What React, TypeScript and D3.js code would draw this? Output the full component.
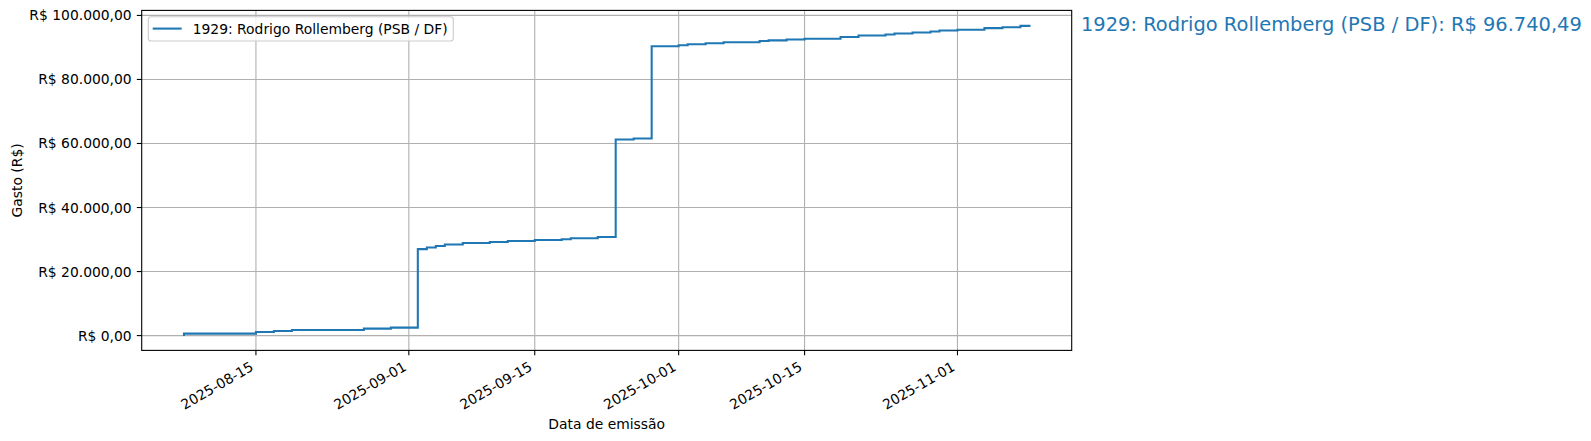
import * as d3 from "d3";
import React, { useEffect, useRef } from "react";

// cumulative spending (steps drawn "pre", like matplotlib's default step)
const emissionDates = [
  "2025-08-07", "2025-08-15", "2025-08-17", "2025-08-19", "2025-08-27",
  "2025-08-30", "2025-09-02", "2025-09-03", "2025-09-04", "2025-09-05",
  "2025-09-07", "2025-09-10", "2025-09-12", "2025-09-15", "2025-09-18",
  "2025-09-19", "2025-09-22", "2025-09-24", "2025-09-26", "2025-09-28",
  "2025-10-01", "2025-10-02", "2025-10-04", "2025-10-06", "2025-10-10",
  "2025-10-11", "2025-10-13", "2025-10-15", "2025-10-19", "2025-10-21",
  "2025-10-24", "2025-10-25", "2025-10-27", "2025-10-29", "2025-10-30",
  "2025-11-01", "2025-11-04", "2025-11-06", "2025-11-08", "2025-11-09",
];
const cumulativeSpend = [
  204, 625, 1125, 1440, 1750, 2190, 2500, 27000, 27500, 28000,
  28430, 28940, 29250, 29560, 29875, 30090, 30400, 30810, 61250, 61560,
  90350, 90700, 91000, 91300, 91600, 92000, 92200, 92500, 92700, 93250,
  93750, 94050, 94350, 94650, 94980, 95290, 95500, 96020, 96330, 96740.49,
];
const seriesLabel = "1929: Rodrigo Rollemberg (PSB / DF)";
const xTickDates = ["2025-08-15", "2025-09-01", "2025-09-15", "2025-10-01", "2025-10-15", "2025-11-01"];
const yTickValues = [0, 20000, 40000, 60000, 80000, 100000];

const parseDate = d3.timeParse("%Y-%m-%d");
const brl = d3.formatLocale({
  decimal: ",",
  thousands: ".",
  grouping: [3],
  currency: ["R$ ", ""],
});
const fmtMoney = brl.format("$,.2f");

const FONT = "DejaVu Sans, sans-serif";
const BLUE = "#1f77b4";

const StepChart: React.FC = () => {
  const ref = useRef<SVGSVGElement>(null);

  useEffect(() => {
    if (!ref.current) return;
    const svg = d3.select(ref.current);
    svg.selectAll("*").remove();

    const data = emissionDates.map((d, i) => ({
      date: parseDate(d)!,
      total: cumulativeSpend[i],
    }));

    // axes box
    const left = 141.7;
    const right = 1071.7;
    const top = 10.4;
    const bottom = 350.4;

    // matplotlib-like 5% margins
    const [x0, x1] = d3.extent(data, (d) => d.date.getTime()) as [number, number];
    const xPad = (x1 - x0) * 0.05;
    const xScale = d3.scaleTime().domain([new Date(x0 - xPad), new Date(x1 + xPad)]).range([left, right]);

    const [y0, y1] = d3.extent(data, (d) => d.total) as [number, number];
    const yPad = (y1 - y0) * 0.05;
    const yScale = d3.scaleLinear().domain([y0 - yPad, y1 + yPad]).range([bottom, top]);

    const xTicks = xTickDates.map((d) => parseDate(d)!);

    // grid
    const grid = svg.append("g").attr("stroke", "#b0b0b0").attr("stroke-width", 1.1);
    grid
      .selectAll("line.gx")
      .data(xTicks)
      .enter()
      .append("line")
      .attr("x1", (d) => xScale(d))
      .attr("x2", (d) => xScale(d))
      .attr("y1", top)
      .attr("y2", bottom);
    grid
      .selectAll("line.gy")
      .data(yTickValues)
      .enter()
      .append("line")
      .attr("x1", left)
      .attr("x2", right)
      .attr("y1", (d) => yScale(d))
      .attr("y2", (d) => yScale(d));

    // step line
    const line = d3
      .line<{ date: Date; total: number }>()
      .x((d) => xScale(d.date))
      .y((d) => yScale(d.total))
      .curve(d3.curveStepBefore);
    svg
      .append("path")
      .datum(data)
      .attr("d", line)
      .attr("fill", "none")
      .attr("stroke", BLUE)
      .attr("stroke-width", 2.08)
      .attr("stroke-linejoin", "miter")
      .attr("stroke-linecap", "square");

    // frame
    svg
      .append("rect")
      .attr("x", left)
      .attr("y", top)
      .attr("width", right - left)
      .attr("height", bottom - top)
      .attr("fill", "none")
      .attr("stroke", "#000")
      .attr("stroke-width", 1.1);

    // x ticks + rotated labels
    const xAxis = svg.append("g");
    xAxis
      .selectAll("line")
      .data(xTicks)
      .enter()
      .append("line")
      .attr("x1", (d) => xScale(d))
      .attr("x2", (d) => xScale(d))
      .attr("y1", bottom)
      .attr("y2", bottom + 4.9)
      .attr("stroke", "#000")
      .attr("stroke-width", 1.1);
    xAxis
      .selectAll("text")
      .data(xTicks)
      .enter()
      .append("text")
      .attr("transform", (d) => `translate(${xScale(d) - 1.5},${bottom + 19.2}) rotate(-30)`)
      .attr("text-anchor", "end")
      .attr("font-family", FONT)
      .attr("font-size", 13.89)
      .attr("fill", "#000")
      .text((d) => d3.timeFormat("%Y-%m-%d")(d));

    // y ticks + labels
    const yAxis = svg.append("g");
    yAxis
      .selectAll("line")
      .data(yTickValues)
      .enter()
      .append("line")
      .attr("x1", left - 4.9)
      .attr("x2", left)
      .attr("y1", (d) => yScale(d))
      .attr("y2", (d) => yScale(d))
      .attr("stroke", "#000")
      .attr("stroke-width", 1.1);
    yAxis
      .selectAll("text")
      .data(yTickValues)
      .enter()
      .append("text")
      .attr("x", left - 10)
      .attr("y", (d) => yScale(d))
      .attr("dy", "0.36em")
      .attr("text-anchor", "end")
      .attr("font-family", FONT)
      .attr("font-size", 13.89)
      .attr("fill", "#000")
      .text((d) => fmtMoney(d));

    // axis titles
    svg
      .append("text")
      .attr("x", (left + right) / 2)
      .attr("y", 429)
      .attr("text-anchor", "middle")
      .attr("font-family", FONT)
      .attr("font-size", 13.89)
      .text("Data de emissão");
    svg
      .append("text")
      .attr("transform", `translate(21.5,${(top + bottom) / 2}) rotate(-90)`)
      .attr("text-anchor", "middle")
      .attr("font-family", FONT)
      .attr("font-size", 13.89)
      .text("Gasto (R$)");

    // legend
    const legend = svg.append("g");
    legend
      .append("rect")
      .attr("x", 148.3)
      .attr("y", 16.7)
      .attr("width", 305)
      .attr("height", 24.3)
      .attr("rx", 2.8)
      .attr("fill", "#fff")
      .attr("fill-opacity", 0.8)
      .attr("stroke", "#cccccc")
      .attr("stroke-width", 1.1);
    legend
      .append("line")
      .attr("x1", 152.7)
      .attr("x2", 181.7)
      .attr("y1", 28.6)
      .attr("y2", 28.6)
      .attr("stroke", BLUE)
      .attr("stroke-width", 2.08);
    legend
      .append("text")
      .attr("x", 192.7)
      .attr("y", 33.6)
      .attr("font-family", FONT)
      .attr("font-size", 13.89)
      .text(seriesLabel);

    // final total annotation
    const last = data[data.length - 1];
    svg
      .append("text")
      .attr("x", right + 9.3)
      .attr("y", 31)
      .attr("font-family", FONT)
      .attr("font-size", 19.44)
      .attr("fill", BLUE)
      .text(`${seriesLabel}: ${fmtMoney(last.total)}`);
  }, []);

  return (
    <svg
      ref={ref}
      width={1591}
      height={441}
      style={{ position: "absolute", left: 0, top: 0, background: "#fff" }}
    ></svg>
  );
};

const App: React.FC = () => {
  return (
    <div>
      <StepChart />
    </div>
  );
};

export default App;
